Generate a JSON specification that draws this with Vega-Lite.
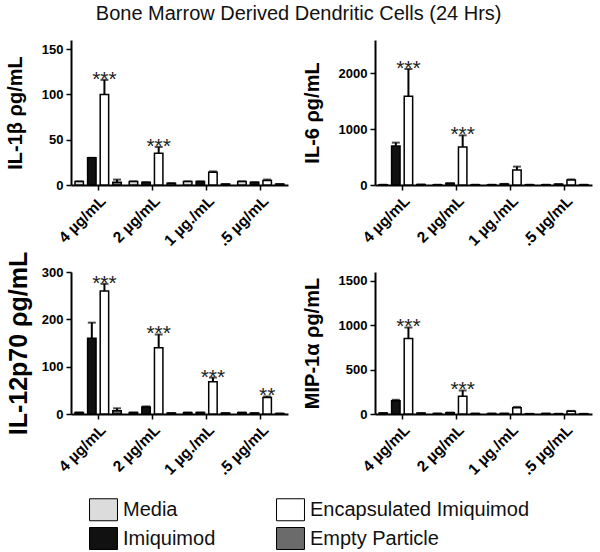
{
  "$schema": "https://vega.github.io/schema/vega-lite/v6.json",
  "padding": {"left": 5, "top": 4, "right": 5, "bottom": 5},
  "background": "white",
  "title": {"text": "Bone Marrow Derived Dendritic Cells (24 Hrs)", "fontSize": 20, "fontWeight": "normal", "font": "Liberation Sans", "color": "#111", "anchor": "middle", "offset": 16, "dx": 0},
  "config": {
    "font": "Liberation Sans",
    "view": {"stroke": null},
    "axis": {"grid": false, "domainColor": "black", "domainWidth": 2, "tickColor": "black", "tickWidth": 1.5, "tickSize": 5, "labelColor": "black", "labelFontWeight": "bold", "labelFont": "Liberation Sans", "titleFont": "Liberation Sans", "titleColor": "black", "titleFontWeight": "bold"},
    "axisY": {"labelFontSize": 13, "titleFontSize": 20, "titlePadding": 16, "labelPadding": 3, "format": "d"},
    "axisX": {"labelFontSize": 15.5, "labelAngle": -45, "labelAlign": "right", "labelBaseline": "top", "title": null, "labelPadding": 3}
  },
  "datasets": {
    "cyto": [
      {"panel": "IL1", "conc": "4 µg/mL", "treatment": "Media", "value": 4, "err": 4, "sig": ""},
      {"panel": "IL1", "conc": "4 µg/mL", "treatment": "Imiquimod", "value": 30, "err": 30, "sig": ""},
      {"panel": "IL1", "conc": "4 µg/mL", "treatment": "Encapsulated Imiquimod", "value": 100, "err": 116, "sig": "***"},
      {"panel": "IL1", "conc": "4 µg/mL", "treatment": "Empty Particle", "value": 3, "err": 6, "sig": ""},
      {"panel": "IL1", "conc": "2 µg/mL", "treatment": "Media", "value": 4, "err": 4, "sig": ""},
      {"panel": "IL1", "conc": "2 µg/mL", "treatment": "Imiquimod", "value": 3, "err": 3, "sig": ""},
      {"panel": "IL1", "conc": "2 µg/mL", "treatment": "Encapsulated Imiquimod", "value": 35, "err": 42, "sig": "***"},
      {"panel": "IL1", "conc": "2 µg/mL", "treatment": "Empty Particle", "value": 2, "err": 2, "sig": ""},
      {"panel": "IL1", "conc": "1 µg./mL", "treatment": "Media", "value": 4, "err": 4, "sig": ""},
      {"panel": "IL1", "conc": "1 µg./mL", "treatment": "Imiquimod", "value": 4, "err": 4, "sig": ""},
      {"panel": "IL1", "conc": "1 µg./mL", "treatment": "Encapsulated Imiquimod", "value": 14, "err": 15, "sig": ""},
      {"panel": "IL1", "conc": "1 µg./mL", "treatment": "Empty Particle", "value": 1, "err": 1, "sig": ""},
      {"panel": "IL1", "conc": ".5 µg/mL", "treatment": "Media", "value": 4, "err": 4, "sig": ""},
      {"panel": "IL1", "conc": ".5 µg/mL", "treatment": "Imiquimod", "value": 3, "err": 3, "sig": ""},
      {"panel": "IL1", "conc": ".5 µg/mL", "treatment": "Encapsulated Imiquimod", "value": 5, "err": 6, "sig": ""},
      {"panel": "IL1", "conc": ".5 µg/mL", "treatment": "Empty Particle", "value": 1, "err": 1, "sig": ""},

      {"panel": "IL6", "conc": "4 µg/mL", "treatment": "Media", "value": 5, "err": 5, "sig": ""},
      {"panel": "IL6", "conc": "4 µg/mL", "treatment": "Imiquimod", "value": 700, "err": 760, "sig": ""},
      {"panel": "IL6", "conc": "4 µg/mL", "treatment": "Encapsulated Imiquimod", "value": 1590, "err": 2080, "sig": "***"},
      {"panel": "IL6", "conc": "4 µg/mL", "treatment": "Empty Particle", "value": 8, "err": 8, "sig": ""},
      {"panel": "IL6", "conc": "2 µg/mL", "treatment": "Media", "value": 5, "err": 5, "sig": ""},
      {"panel": "IL6", "conc": "2 µg/mL", "treatment": "Imiquimod", "value": 30, "err": 30, "sig": ""},
      {"panel": "IL6", "conc": "2 µg/mL", "treatment": "Encapsulated Imiquimod", "value": 680, "err": 890, "sig": "***"},
      {"panel": "IL6", "conc": "2 µg/mL", "treatment": "Empty Particle", "value": 5, "err": 5, "sig": ""},
      {"panel": "IL6", "conc": "1 µg./mL", "treatment": "Media", "value": 5, "err": 5, "sig": ""},
      {"panel": "IL6", "conc": "1 µg./mL", "treatment": "Imiquimod", "value": 20, "err": 20, "sig": ""},
      {"panel": "IL6", "conc": "1 µg./mL", "treatment": "Encapsulated Imiquimod", "value": 270, "err": 330, "sig": ""},
      {"panel": "IL6", "conc": "1 µg./mL", "treatment": "Empty Particle", "value": 5, "err": 5, "sig": ""},
      {"panel": "IL6", "conc": ".5 µg/mL", "treatment": "Media", "value": 5, "err": 5, "sig": ""},
      {"panel": "IL6", "conc": ".5 µg/mL", "treatment": "Imiquimod", "value": 15, "err": 15, "sig": ""},
      {"panel": "IL6", "conc": ".5 µg/mL", "treatment": "Encapsulated Imiquimod", "value": 90, "err": 100, "sig": ""},
      {"panel": "IL6", "conc": ".5 µg/mL", "treatment": "Empty Particle", "value": 5, "err": 5, "sig": ""},

      {"panel": "IL12", "conc": "4 µg/mL", "treatment": "Media", "value": 3, "err": 3, "sig": ""},
      {"panel": "IL12", "conc": "4 µg/mL", "treatment": "Imiquimod", "value": 160, "err": 193, "sig": ""},
      {"panel": "IL12", "conc": "4 µg/mL", "treatment": "Encapsulated Imiquimod", "value": 260, "err": 275, "sig": "***"},
      {"panel": "IL12", "conc": "4 µg/mL", "treatment": "Empty Particle", "value": 7, "err": 12, "sig": ""},
      {"panel": "IL12", "conc": "2 µg/mL", "treatment": "Media", "value": 3, "err": 3, "sig": ""},
      {"panel": "IL12", "conc": "2 µg/mL", "treatment": "Imiquimod", "value": 15, "err": 16, "sig": ""},
      {"panel": "IL12", "conc": "2 µg/mL", "treatment": "Encapsulated Imiquimod", "value": 140, "err": 168, "sig": "***"},
      {"panel": "IL12", "conc": "2 µg/mL", "treatment": "Empty Particle", "value": 2, "err": 2, "sig": ""},
      {"panel": "IL12", "conc": "1 µg./mL", "treatment": "Media", "value": 3, "err": 3, "sig": ""},
      {"panel": "IL12", "conc": "1 µg./mL", "treatment": "Imiquimod", "value": 3, "err": 3, "sig": ""},
      {"panel": "IL12", "conc": "1 µg./mL", "treatment": "Encapsulated Imiquimod", "value": 68, "err": 77, "sig": "***"},
      {"panel": "IL12", "conc": "1 µg./mL", "treatment": "Empty Particle", "value": 2, "err": 2, "sig": ""},
      {"panel": "IL12", "conc": ".5 µg/mL", "treatment": "Media", "value": 3, "err": 3, "sig": ""},
      {"panel": "IL12", "conc": ".5 µg/mL", "treatment": "Imiquimod", "value": 2, "err": 2, "sig": ""},
      {"panel": "IL12", "conc": ".5 µg/mL", "treatment": "Encapsulated Imiquimod", "value": 35, "err": 37, "sig": "**"},
      {"panel": "IL12", "conc": ".5 µg/mL", "treatment": "Empty Particle", "value": 1, "err": 1, "sig": ""},

      {"panel": "MIP", "conc": "4 µg/mL", "treatment": "Media", "value": 10, "err": 10, "sig": ""},
      {"panel": "MIP", "conc": "4 µg/mL", "treatment": "Imiquimod", "value": 150, "err": 160, "sig": ""},
      {"panel": "MIP", "conc": "4 µg/mL", "treatment": "Encapsulated Imiquimod", "value": 850, "err": 975, "sig": "***"},
      {"panel": "MIP", "conc": "4 µg/mL", "treatment": "Empty Particle", "value": 10, "err": 10, "sig": ""},
      {"panel": "MIP", "conc": "2 µg/mL", "treatment": "Media", "value": 5, "err": 5, "sig": ""},
      {"panel": "MIP", "conc": "2 µg/mL", "treatment": "Imiquimod", "value": 15, "err": 15, "sig": ""},
      {"panel": "MIP", "conc": "2 µg/mL", "treatment": "Encapsulated Imiquimod", "value": 200, "err": 265, "sig": "***"},
      {"panel": "MIP", "conc": "2 µg/mL", "treatment": "Empty Particle", "value": 5, "err": 5, "sig": ""},
      {"panel": "MIP", "conc": "1 µg./mL", "treatment": "Media", "value": 5, "err": 5, "sig": ""},
      {"panel": "MIP", "conc": "1 µg./mL", "treatment": "Imiquimod", "value": 5, "err": 5, "sig": ""},
      {"panel": "MIP", "conc": "1 µg./mL", "treatment": "Encapsulated Imiquimod", "value": 70, "err": 80, "sig": ""},
      {"panel": "MIP", "conc": "1 µg./mL", "treatment": "Empty Particle", "value": 2, "err": 2, "sig": ""},
      {"panel": "MIP", "conc": ".5 µg/mL", "treatment": "Media", "value": 5, "err": 5, "sig": ""},
      {"panel": "MIP", "conc": ".5 µg/mL", "treatment": "Imiquimod", "value": 3, "err": 3, "sig": ""},
      {"panel": "MIP", "conc": ".5 µg/mL", "treatment": "Encapsulated Imiquimod", "value": 30, "err": 35, "sig": ""},
      {"panel": "MIP", "conc": ".5 µg/mL", "treatment": "Empty Particle", "value": 2, "err": 2, "sig": ""}
    ]
  },
  "data": {"name": "cyto"},
  "columns": 2,
  "spacing": {"column": 14, "row": 2},
  "resolve": {"scale": {"y": "independent"}},
  "concat": [
    {
      "width": 217, "height": 145,
      "transform": [{"filter": "datum.panel == 'IL1'"}],
      "encoding": {
        "x": {"field": "conc", "type": "nominal", "sort": ["4 µg/mL", "2 µg/mL", "1 µg./mL", ".5 µg/mL"], "scale": {"paddingInner": 0.1, "paddingOuter": 0.05}},
        "xOffset": {"field": "treatment", "type": "nominal", "sort": ["Media", "Imiquimod", "Encapsulated Imiquimod", "Empty Particle"], "scale": {"paddingInner": 0.33, "paddingOuter": 0.1}}
      },
      "layer": [
        {"mark": {"type": "rule", "color": "black", "strokeWidth": 2}, "encoding": {"y": {"field": "value", "type": "quantitative", "title": "IL-1β ρg/mL"}, "y2": {"field": "err"}}},
        {"mark": {"type": "tick", "color": "black", "thickness": 2, "size": 8}, "encoding": {"y": {"field": "err", "type": "quantitative", "title": "IL-1β ρg/mL"}}},
        {"mark": {"type": "bar", "stroke": "black", "strokeWidth": 1.5}, "encoding": {
          "y": {"field": "value", "type": "quantitative", "title": "IL-1β ρg/mL", "scale": {"domain": [0, 150]}, "axis": {"values": [0, 50, 100, 150]}},
          "color": {"field": "treatment", "type": "nominal", "scale": {"domain": ["Media", "Imiquimod", "Encapsulated Imiquimod", "Empty Particle"], "range": ["#dcdcdc", "#111111", "#ffffff", "#6b6b6b"]}, "legend": {"orient": "none", "legendX": 21, "legendY": 458, "columns": 2, "title": null, "symbolType": "M-1.27,-1H1.27V1H-1.27Z", "symbolSize": 484, "symbolStrokeColor": "#999", "symbolStrokeWidth": 1, "labelFontSize": 20, "labelFont": "Liberation Sans", "labelColor": "#111", "labelOffset": 8, "columnPadding": 58, "rowPadding": 2, "labelLimit": 400}}
        }},
        {"mark": {"type": "text", "fontSize": 21, "dy": 6, "baseline": "alphabetic", "color": "#222"}, "encoding": {"y": {"field": "err", "type": "quantitative", "title": "IL-1β ρg/mL"}, "text": {"field": "sig"}}}
      ]
    },
    {
      "width": 217, "height": 145,
      "transform": [{"filter": "datum.panel == 'IL6'"}],
      "encoding": {
        "x": {"field": "conc", "type": "nominal", "sort": ["4 µg/mL", "2 µg/mL", "1 µg./mL", ".5 µg/mL"], "scale": {"paddingInner": 0.1, "paddingOuter": 0.05}},
        "xOffset": {"field": "treatment", "type": "nominal", "sort": ["Media", "Imiquimod", "Encapsulated Imiquimod", "Empty Particle"], "scale": {"paddingInner": 0.33, "paddingOuter": 0.1}}
      },
      "layer": [
        {"mark": {"type": "rule", "color": "black", "strokeWidth": 2}, "encoding": {"y": {"field": "value", "type": "quantitative", "title": "IL-6 ρg/mL"}, "y2": {"field": "err"}}},
        {"mark": {"type": "tick", "color": "black", "thickness": 2, "size": 8}, "encoding": {"y": {"field": "err", "type": "quantitative", "title": "IL-6 ρg/mL"}}},
        {"mark": {"type": "bar", "stroke": "black", "strokeWidth": 1.5}, "encoding": {
          "y": {"field": "value", "type": "quantitative", "title": "IL-6 ρg/mL", "scale": {"domain": [0, 2500]}, "axis": {"values": [0, 500, 1000, 1500, 2000, 2500]}},
          "color": {"field": "treatment", "type": "nominal"}
        }},
        {"mark": {"type": "text", "fontSize": 21, "dy": 6, "baseline": "alphabetic", "color": "#222"}, "encoding": {"y": {"field": "err", "type": "quantitative", "title": "IL-6 ρg/mL"}, "text": {"field": "sig"}}}
      ]
    },
    {
      "width": 217, "height": 142,
      "transform": [{"filter": "datum.panel == 'IL12'"}],
      "encoding": {
        "x": {"field": "conc", "type": "nominal", "sort": ["4 µg/mL", "2 µg/mL", "1 µg./mL", ".5 µg/mL"], "scale": {"paddingInner": 0.1, "paddingOuter": 0.05}},
        "xOffset": {"field": "treatment", "type": "nominal", "sort": ["Media", "Imiquimod", "Encapsulated Imiquimod", "Empty Particle"], "scale": {"paddingInner": 0.33, "paddingOuter": 0.1}}
      },
      "layer": [
        {"mark": {"type": "rule", "color": "black", "strokeWidth": 2}, "encoding": {"y": {"field": "value", "type": "quantitative", "title": "IL-12p70 ρg/mL"}, "y2": {"field": "err"}}},
        {"mark": {"type": "tick", "color": "black", "thickness": 2, "size": 8}, "encoding": {"y": {"field": "err", "type": "quantitative", "title": "IL-12p70 ρg/mL"}}},
        {"mark": {"type": "bar", "stroke": "black", "strokeWidth": 1.5}, "encoding": {
          "y": {"field": "value", "type": "quantitative", "title": "IL-12p70 ρg/mL", "scale": {"domain": [0, 300]}, "axis": {"values": [0, 100, 200, 300], "titleFontSize": 25, "titlePadding": 10}},
          "color": {"field": "treatment", "type": "nominal"}
        }},
        {"mark": {"type": "text", "fontSize": 21, "dy": 6, "baseline": "alphabetic", "color": "#222"}, "encoding": {"y": {"field": "err", "type": "quantitative", "title": "IL-12p70 ρg/mL"}, "text": {"field": "sig"}}}
      ]
    },
    {
      "width": 217, "height": 142,
      "transform": [{"filter": "datum.panel == 'MIP'"}],
      "encoding": {
        "x": {"field": "conc", "type": "nominal", "sort": ["4 µg/mL", "2 µg/mL", "1 µg./mL", ".5 µg/mL"], "scale": {"paddingInner": 0.1, "paddingOuter": 0.05}},
        "xOffset": {"field": "treatment", "type": "nominal", "sort": ["Media", "Imiquimod", "Encapsulated Imiquimod", "Empty Particle"], "scale": {"paddingInner": 0.33, "paddingOuter": 0.1}}
      },
      "layer": [
        {"mark": {"type": "rule", "color": "black", "strokeWidth": 2}, "encoding": {"y": {"field": "value", "type": "quantitative", "title": "MIP-1α ρg/mL"}, "y2": {"field": "err"}}},
        {"mark": {"type": "tick", "color": "black", "thickness": 2, "size": 8}, "encoding": {"y": {"field": "err", "type": "quantitative", "title": "MIP-1α ρg/mL"}}},
        {"mark": {"type": "bar", "stroke": "black", "strokeWidth": 1.5}, "encoding": {
          "y": {"field": "value", "type": "quantitative", "title": "MIP-1α ρg/mL", "scale": {"domain": [0, 1500]}, "axis": {"values": [0, 500, 1000, 1500]}},
          "color": {"field": "treatment", "type": "nominal"}
        }},
        {"mark": {"type": "text", "fontSize": 21, "dy": 6, "baseline": "alphabetic", "color": "#222"}, "encoding": {"y": {"field": "err", "type": "quantitative", "title": "MIP-1α ρg/mL"}, "text": {"field": "sig"}}}
      ]
    }
  ]
}
